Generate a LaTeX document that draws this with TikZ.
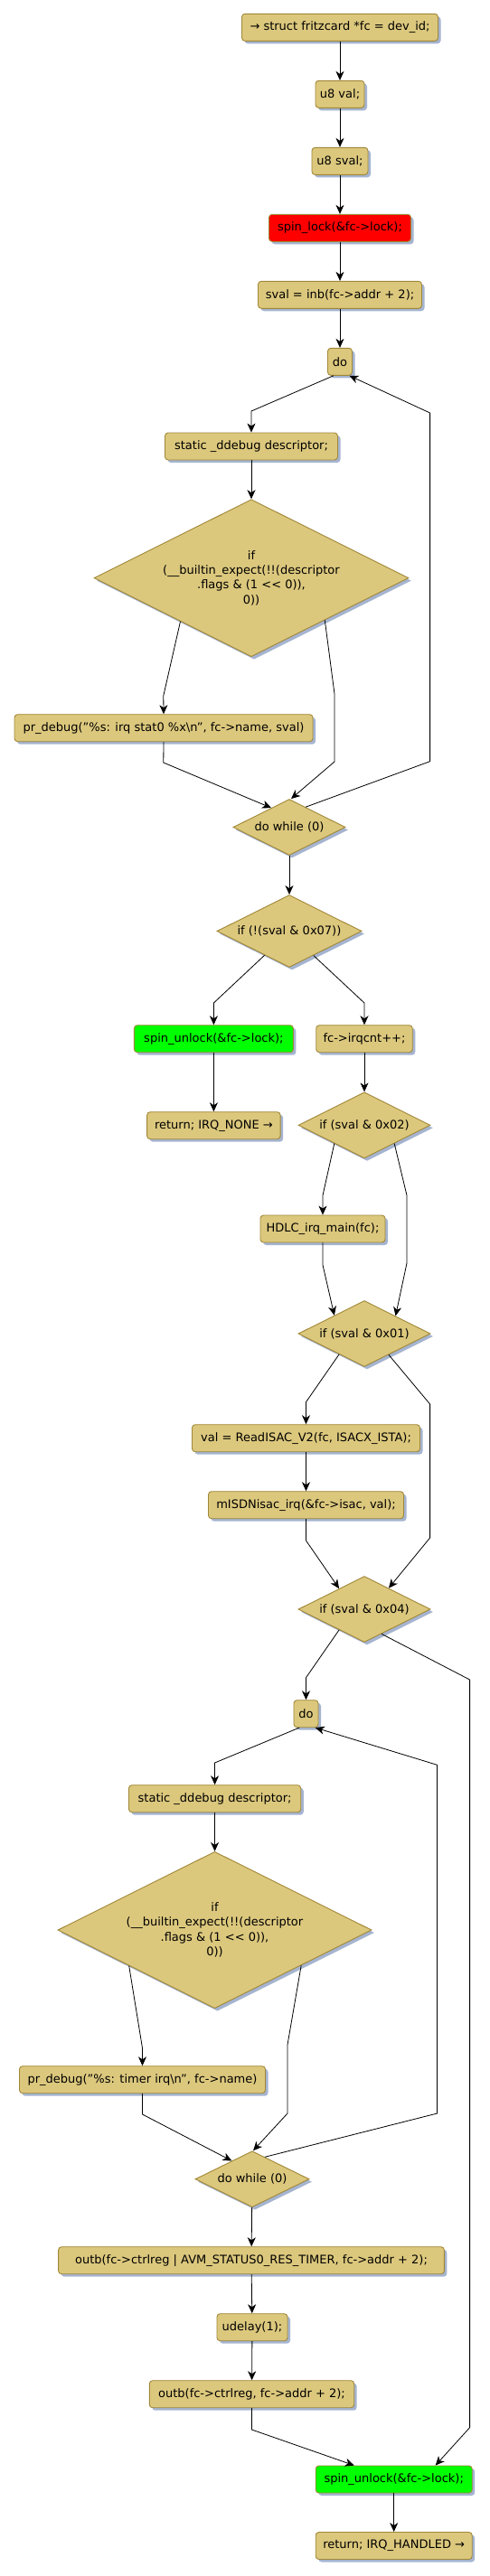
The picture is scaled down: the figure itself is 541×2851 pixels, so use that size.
\documentclass[tikz,border=0pt]{standalone}
\usepackage{fontspec}
\setmainfont{DejaVu Sans}
\usetikzlibrary{shapes.geometric,arrows.meta,calc,shadows}
\definecolor{boxfill}{RGB}{220,200,125}
\definecolor{boxline}{RGB}{160,135,55}
\definecolor{shadowc}{RGB}{165,180,208}
\definecolor{lockred}{RGB}{255,0,0}
\definecolor{unlockgreen}{RGB}{0,255,0}
\newcommand{\shl}{<\kern0pt<}
\tikzset{
  shd/.style={drop shadow={shadow xshift=3pt, shadow yshift=-3pt, fill=shadowc, opacity=1}},
  box/.style={rectangle, rounded corners=3.5pt, draw=boxline, fill=boxfill, line width=0.9pt,
    minimum height=30pt, inner xsep=2pt, inner ysep=0pt, shd},
  dia/.style={diamond, aspect=2, draw=boxline, fill=boxfill, line width=0.9pt,
    inner sep=0pt, align=center, shd},
  arr/.style={-{Stealth[length=10pt,width=9pt,inset=3pt]}, line width=0.8pt},
}
\begin{document}
\begin{tikzpicture}[x=1pt,y=-1pt,font=\fontsize{13}{16.3}\selectfont]
\useasboundingbox[fill=white] (0,0) rectangle (541,2851);
% nodes
\node[box, minimum width=217pt] (start) at (376,30.3) {→ struct fritzcard *fc = dev\_id;};
\node[box, minimum width=54pt] (val) at (376,104.3) {u8 val;};
\node[box, minimum width=62pt] (sval) at (376,178.3) {u8 sval;};
\node[box, minimum width=157pt, fill=lockred] (lock) at (376,252.3) {spin\_lock(\&fc->lock);};
\node[box, minimum width=181pt] (inb) at (376,326.3) {sval = inb(fc->addr + 2);};
\node[box, minimum width=27pt] (doa) at (376,400.3) {do};
\node[box, minimum width=191pt] (desca) at (278,494) {static \_ddebug descriptor;};
\node[dia, minimum width=348pt, minimum height=174pt] (ifa) at (278,639.7)
  {if\\(\_\_builtin\_expect(!!(descriptor\\.flags \& (1 \shl{} 0)),\\0))};
\node[box, minimum width=330pt] (dbga) at (181,805.7) {pr\_debug("\%s: irq stat0 \%x\textbackslash n", fc->name, sval)};
\node[dia, minimum width=124pt, minimum height=62pt] (dwa) at (320,915.5) {do while (0)};
\node[dia, minimum width=160pt, minimum height=80pt] (ifs) at (320,1030.5) {if (!(sval \& 0x07))};
\node[box, minimum width=176pt, fill=unlockgreen] (unla) at (236.4,1149.7) {spin\_unlock(\&fc->lock);};
\node[box, minimum width=106.5pt] (irq) at (403,1149.7) {fc->irqcnt++;};
\node[box, minimum width=147.5pt] (reta) at (236.4,1245.7) {return; IRQ\_NONE →};
\node[dia, minimum width=146pt, minimum height=73pt] (iftwo) at (403,1245.3) {if (sval \& 0x02)};
\node[box, minimum width=138pt] (hdlc) at (357,1360) {HDLC\_irq\_main(fc);};
\node[dia, minimum width=146pt, minimum height=73pt] (ifone) at (403,1476) {if (sval \& 0x01)};
\node[box, minimum width=252pt] (isac) at (338.5,1591.7) {val = ReadISAC\_V2(fc, ISACX\_ISTA);};
\node[box, minimum width=216pt] (misdn) at (338.5,1665.7) {mISDNisac\_irq(\&fc->isac, val);};
\node[dia, minimum width=146pt, minimum height=73pt] (iffour) at (403,1781) {if (sval \& 0x04)};
\node[box, minimum width=27pt] (dob) at (338.5,1896.7) {do};
\node[box, minimum width=190.3pt] (descb) at (237.6,1990.7) {static \_ddebug descriptor;};
\node[dia, minimum width=347pt, minimum height=173.4pt] (ifb) at (237.5,2136)
  {if\\(\_\_builtin\_expect(!!(descriptor\\.flags \& (1 \shl{} 0)),\\0))};
\node[box, minimum width=272pt] (dbgb) at (157.5,2301.7) {pr\_debug("\%s: timer irq\textbackslash n", fc->name)};
\node[dia, minimum width=126pt, minimum height=62pt] (dwb) at (279,2411.7) {do while (0)};
\node[box, minimum width=426.7pt] (outa) at (278,2501.7) {outb(fc->ctrlreg | AVM\_STATUS0\_RES\_TIMER, fc->addr + 2);};
\node[box, minimum width=78pt] (udel) at (279,2575.7) {udelay(1);};
\node[box, minimum width=226.4pt] (outb) at (278.5,2649.7) {outb(fc->ctrlreg, fc->addr + 2);};
\node[box, minimum width=173pt, fill=unlockgreen] (unlb) at (435.7,2744) {spin\_unlock(\&fc->lock);};
\node[box, minimum width=173pt] (retb) at (435.7,2817.5) {return; IRQ\_HANDLED →};
% connectors
\draw[arr] (start) -- (val);
\draw[arr] (val) -- (sval);
\draw[arr] (sval) -- (lock);
\draw[arr] (lock) -- (inb);
\draw[arr] (inb) -- (doa);
\draw[arr] ($(doa.south)+(-7,0)$) -- (278,455) -- (desca.north);
\draw[arr] (desca) -- (ifa);
\draw[arr] ($(ifa.west)!0.55!(ifa.south)$) -- (180.8,770) -- (dbga.north);
\draw[arr] ($(ifa.east)!0.534!(ifa.south)$) -- (370,768) -- (370,843) -- ($(dwa.north)+(2,0)$);
\draw[arr] (dbga.south) -- (180.8,844) -- ($(dwa.west)!0.68!(dwa.north)$);
\draw[arr] ($(dwa.north)!0.29!(dwa.east)$) -- (475.6,842.7) -- (475.6,457) -- ($(doa.south east)+(-3.5,0)$);
\draw[arr] (dwa) -- (ifs);
\draw[arr] ($(ifs.west)!0.66!(ifs.south)$) -- (236.4,1110) -- (unla.north);
\draw[arr] ($(ifs.east)!0.667!(ifs.south)$) -- (403,1110) -- (irq.north);
\draw[arr] (unla) -- (reta);
\draw[arr] (irq) -- (iftwo);
\draw[arr] ($(iftwo.west)!0.548!(iftwo.south)$) -- (357,1323) -- (hdlc.north);
\draw[arr] ($(iftwo.east)!0.548!(iftwo.south)$) -- (450,1323) -- (450,1398) -- ($(ifone.north)!0.47!(ifone.east)$);
\draw[arr] (hdlc.south) -- (357,1400) -- ($(ifone.west)!0.548!(ifone.north)$);
\draw[arr] ($(ifone.west)!0.62!(ifone.south)$) -- (338.5,1551.7) -- (isac.north);
\draw[arr] ($(ifone.east)!0.633!(ifone.south)$) -- (475.6,1554) -- (475.6,1702) -- ($(iffour.north)!0.367!(iffour.east)$);
\draw[arr] (isac) -- (misdn);
\draw[arr] (misdn.south) -- (338.5,1705) -- ($(iffour.west)!0.62!(iffour.north)$);
\draw[arr] ($(iffour.west)!0.62!(iffour.south)$) -- (338.5,1856.7) -- (dob.north);
\draw[arr] ($(iffour.east)!0.74!(iffour.south)$) -- (519.6,1859) -- (519.6,2686.7) -- ($(unlb.north)+(46,0)$);
\draw[arr] ($(dob.south)+(-7.5,0)$) -- (237.5,1951) -- (descb.north);
\draw[arr] (descb) -- (ifb);
\draw[arr] ($(ifb.west)!0.455!(ifb.south)$) -- (157.5,2266.7) -- (dbgb.north);
\draw[arr] ($(ifb.east)!0.45!(ifb.south)$) -- (318,2263) -- (318,2339) -- ($(dwb.north)+(1,0)$);
\draw[arr] (dbgb.south) -- (157.5,2340) -- ($(dwb.west)!0.643!(dwb.north)$);
\draw[arr] ($(dwb.north)!0.222!(dwb.east)$) -- (483.5,2339) -- (483.5,1953.3) -- ($(dob.south east)+(-3.6,0)$);
\draw[arr] (dwb) -- (outa);
\draw[arr] (outa) -- (udel);
\draw[arr] (udel) -- (outb);
\draw[arr] (outb.south) -- (278.5,2689) -- ($(unlb.north)+(-44,0)$);
\draw[arr] (unlb) -- (retb);
\end{tikzpicture}
\end{document}
